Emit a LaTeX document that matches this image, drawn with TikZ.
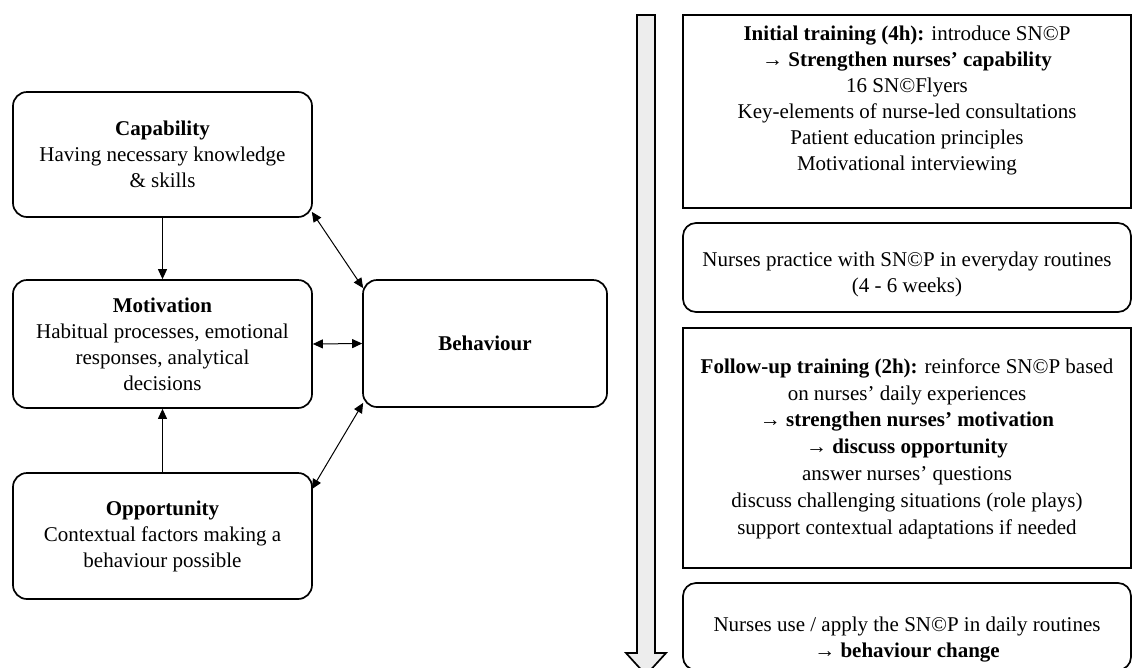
\documentclass[tikz,border=0pt]{standalone}
\usepackage{fontspec}
\setmainfont{Liberation Serif}
\usetikzlibrary{arrows.meta}
\begin{document}
\begin{tikzpicture}[x=1pt,y=-1pt,
  every node/.style={font=\fontsize{21}{26}\selectfont, align=center, inner sep=0pt},
  lbox/.style={draw, line width=1.7pt, rounded corners=14pt, minimum width=299pt},
  sqbox/.style={draw, line width=1.7pt, minimum width=448pt},
  rbox/.style={draw, line width=1.7pt, rounded corners=13pt, minimum width=448pt},
  link/.style={line width=1pt, -{Triangle[length=10pt,width=9pt]}},
  dlink/.style={line width=1pt, {Triangle[length=10pt,width=9pt]}-{Triangle[length=10pt,width=9pt]}},
  flow/.style={draw, line width=1.7pt, fill=black!7}
]
\useasboundingbox (0,0) rectangle (1134,667);

% left: COM-B model
\node[lbox, minimum height=125pt] (cap) at (162.5,154.5)
  {\textbf{Capability}\\Having necessary knowledge\\\& skills};
\node[lbox, minimum height=128pt] (mot) at (162.5,344)
  {\textbf{Motivation}\\Habitual processes, emotional\\responses, analytical\\decisions};
\node[lbox, minimum height=126pt] (opp) at (162.5,536)
  {\textbf{Opportunity}\\Contextual factors making a\\behaviour possible};
\node[lbox, minimum width=244pt, minimum height=127pt] (beh) at (485,343.5)
  {\textbf{Behaviour}};

\draw[link] (cap.south) -- (mot.north);
\draw[link] (opp.north) -- (mot.south);
\draw[dlink] (mot.east) -- (beh.west);
\draw[dlink] ([xshift=-1pt,yshift=6pt]cap.south east) -- ([xshift=1pt,yshift=-9pt]beh.north west);
\draw[dlink] ([xshift=-1pt,yshift=-17pt]opp.north east) -- ([xshift=1pt,yshift=5pt]beh.south west);

% right: timeline arrow
\draw[flow] (637,15) -- (655,15) -- (655,653) -- (666,653) -- (646,675)
  -- (626,653) -- (637,653) -- cycle;

% right: intervention boxes
\node[sqbox, minimum height=193pt] (b1) at (907,111.5) {};
\node (t1) at (907,100)
  {\textbf{Initial training (4h):} introduce SN©P\\
   \textbf{→ Strengthen nurses’ capability}\\
   16 SN©Flyers\\
   Key-elements of nurse-led consultations\\
   Patient education principles\\
   Motivational interviewing};

\node[rbox, minimum height=89pt] (b2) at (907,267.5) {};
\node (t2) at (907,274)
  {Nurses practice with SN©P in everyday routines\\(4 - 6 weeks)};

\node[sqbox, minimum height=240pt] (b3) at (907,448) {};
\node[font=\fontsize{21}{26.8}\selectfont] (t3) at (907,448.5)
  {\textbf{Follow-up training (2h):} reinforce SN©P based\\
   on nurses’ daily experiences\\
   \textbf{→ strengthen nurses’ motivation}\\
   \textbf{→ discuss opportunity}\\
   answer nurses’ questions\\
   discuss challenging situations (role plays)\\
   support contextual adaptations if needed};

\node[rbox, minimum height=87pt] (b4) at (907,626.5) {};
\node (t4) at (907,639.5)
  {Nurses use / apply the SN©P in daily routines\\
   \textbf{→ behaviour change}};
\end{tikzpicture}
\end{document}
